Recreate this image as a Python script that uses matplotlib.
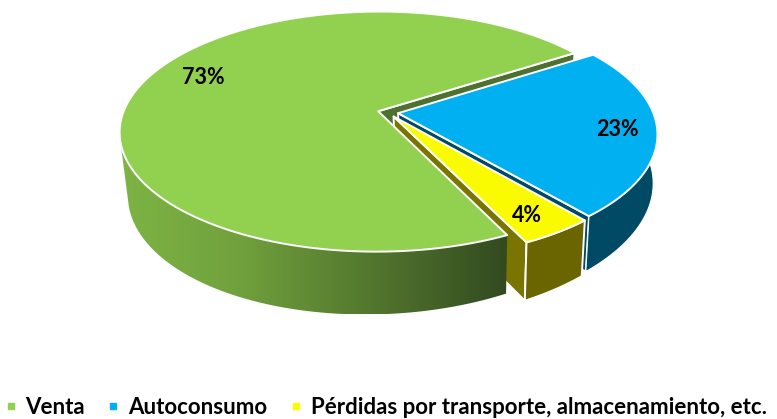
import numpy as np
import matplotlib
matplotlib.use("Agg")
import matplotlib.pyplot as plt
from matplotlib.colors import LinearSegmentedColormap
from matplotlib.lines import Line2D
from matplotlib.patches import Polygon

# ---- data
categories = ["Venta", "Autoconsumo", "Pérdidas por transporte, almacenamiento, etc."]
values = [73, 23, 4]
top_colors = ["#92D050", "#00B0F0", "#FAFA00"]
side_colors = [None, "#004A66", "#6B6500"]
cut_colors = ["#4E7030", "#004A66", "#7A7400"]
label_pos = [(203, 77), (617, 129), (527, 215)]
blue_start = 33.0  # angle at which the second slice starts, clockwise

plt.rcParams["font.family"] = ["Lato", "DejaVu Sans"]

# ---- projection parameters
CX, CY = 388.0, 112.5
A, B, H = 255.0, 117.0, 56.5
K, M = 0.17, 0.023
TILT, XSHIFT = 0.12, 2.0
EXPL = 0.04


def project(X, Y, Z=0.0):
    X, Y = np.asarray(X), np.asarray(Y)
    s = 1.0 / (1.0 + K * Y + M * Z)
    return (CX + A * X * s + XSHIFT * Z,
            CY - (B * Y - H * (1 - TILT * X) * Z) * s)


# slice angles (math degrees, running clockwise)
spans = np.array(values) / sum(values) * 360.0
starts = {1: blue_start, 2: blue_start - spans[1], 0: blue_start - spans[1] - spans[2]}


def slice_geom(i):
    a0 = starts[i]
    a1 = a0 - spans[i]
    mid = np.radians((a0 + a1) / 2)
    ox, oy = EXPL * np.cos(mid), EXPL * np.sin(mid)
    return a0, a1, ox, oy


def arc(i, a0, a1, Z=0.0):
    _, _, ox, oy = slice_geom(i)
    t = np.radians(np.linspace(a0, a1, 240))
    return np.column_stack(project(ox + np.cos(t), oy + np.sin(t), Z))


def apex(i, Z=0.0):
    _, _, ox, oy = slice_geom(i)
    return np.column_stack(project(np.array([ox]), np.array([oy]), Z))


def top_poly(i):
    a0, a1, _, _ = slice_geom(i)
    return np.vstack([apex(i), arc(i, a0, a1)])


def side_poly(i, a0, a1):
    return np.vstack([arc(i, a0, a1), arc(i, a0, a1, 1.0)[::-1]])


def cut_poly(i, ang):
    return np.vstack([apex(i), arc(i, ang, ang)[:1], arc(i, ang, ang, 1.0)[:1], apex(i, 1.0)])


fig = plt.figure(figsize=(7.77, 4.19), dpi=100)
ax = fig.add_axes([0, 0, 1, 1])
ax.set_axis_off()

WH = dict(edgecolor="white", linewidth=1.4, joinstyle="round")

# green far cut face
ax.add_patch(Polygon(cut_poly(0, starts[0] - spans[0]), facecolor=cut_colors[0], zorder=1, **WH))

# blue
a0, a1, _, _ = slice_geom(1)
ax.add_patch(Polygon(cut_poly(1, a1), facecolor=cut_colors[1], zorder=2, **WH))
ax.add_patch(Polygon(side_poly(1, 4.0, a1), facecolor=side_colors[1], zorder=2, edgecolor="white", linewidth=0.8))
ax.add_patch(Polygon(top_poly(1), facecolor=top_colors[1], zorder=3, **WH))

# yellow
a0, a1, _, _ = slice_geom(2)
ax.add_patch(Polygon(cut_poly(2, a1), facecolor=cut_colors[2], zorder=4, **WH))
ax.add_patch(Polygon(side_poly(2, a0, a1), facecolor=side_colors[2], zorder=4, **WH))
ax.add_patch(Polygon(top_poly(2), facecolor=top_colors[2], zorder=5, **WH))

# green side with left-to-right gradient, then top
a0, a1, _, _ = slice_geom(0)
cmap = LinearSegmentedColormap.from_list(
    "side", [(0, "#7DB444"), (0.3, "#71A13D"), (0.6, "#577D30"), (1, "#324A20")]
)
side = Polygon(side_poly(0, -165.0, a0), facecolor="none", edgecolor="none", zorder=6)
ax.add_patch(side)
xy = side.get_xy()
im = ax.imshow(
    np.linspace(0, 1, 256).reshape(1, -1),
    cmap=cmap, aspect="auto", zorder=6,
    extent=(xy[:, 0].min(), xy[:, 0].max(), xy[:, 1].max(), xy[:, 1].min()),
)
im.set_clip_path(side)
ax.add_patch(Polygon(top_poly(0), facecolor=top_colors[0], zorder=7, **WH))

ax.set_xlim(0, 777)
ax.set_ylim(419, 0)

# ---- percentage labels
for v, (x, y) in zip(values, label_pos):
    ax.text(x, y, f"{v}%", ha="center", va="center", fontsize=15.5, fontweight="bold", color="black", zorder=10)

# ---- legend
handles = [
    Line2D([], [], linestyle="none", marker="s", markersize=4.6, color=c, label=n)
    for c, n in zip(top_colors, categories)
]
ax.legend(
    handles=handles, ncol=3, loc="center", bbox_to_anchor=(386 / 777, 1 - 407 / 419),
    frameon=False, prop=dict(size=16, weight="bold"),
    handlelength=0.5, handletextpad=0.43, columnspacing=1.02, borderpad=0, borderaxespad=0,
)

fig.savefig("out.png", dpi=100)
